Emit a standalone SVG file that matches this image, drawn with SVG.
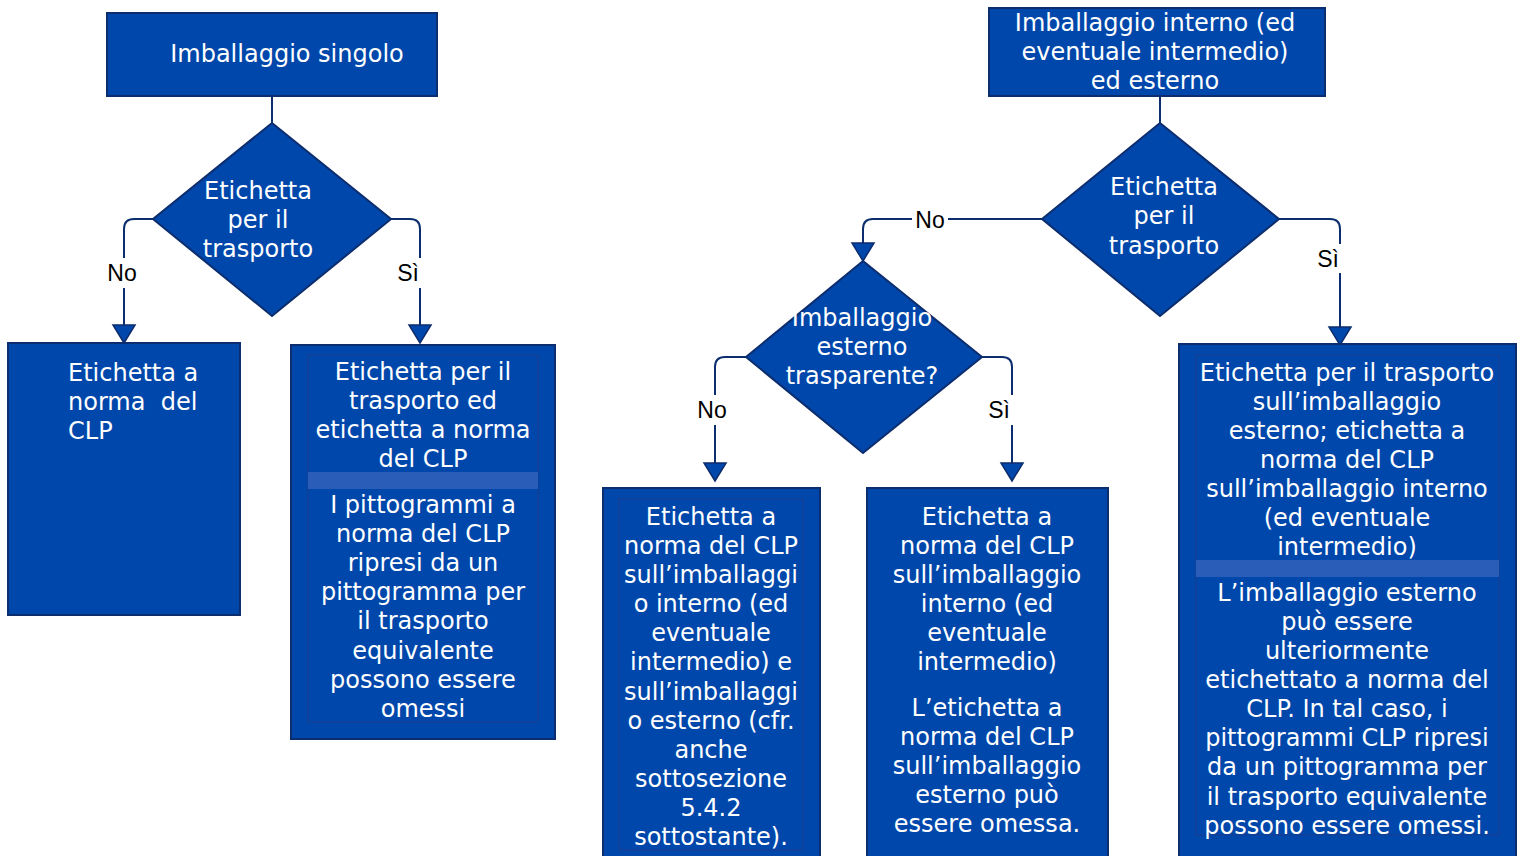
<svg xmlns="http://www.w3.org/2000/svg" width="1522" height="856" viewBox="0 0 1522 856">
<style>
.box{fill:#0047AB;stroke:#0C2D6E;stroke-width:2}
.inner{fill:none;stroke:#1A3C8C;stroke-width:1}
.band{fill:#2A5DB8}
.t{font-family:"DejaVu Sans",Verdana,sans-serif;font-size:24px;fill:#ffffff;text-anchor:middle}
.td{font-family:"DejaVu Sans",Verdana,sans-serif;font-size:24px;fill:#ffffff;text-anchor:middle}
.tl{font-family:"DejaVu Sans",Verdana,sans-serif;font-size:24px;fill:#ffffff;white-space:pre}
.conn{fill:none;stroke:#0C2D6E;stroke-width:2}
.lbl{font-family:"Liberation Sans",Arial,sans-serif;font-size:23px;fill:#000000;text-anchor:middle}
.lblbg{fill:#ffffff}
</style>
<defs>
<marker id="arr" viewBox="0 0 18 22" refX="18" refY="11" markerWidth="18" markerHeight="22" markerUnits="userSpaceOnUse" orient="auto" overflow="visible">
<path d="M0,0 L18,11 L0,22 Z" fill="#0047AB" stroke="#0C2D6E" stroke-width="1.5"/>
</marker>
</defs>
<rect width="1522" height="856" fill="#ffffff"/>

<g id="connectors">
<path class="conn" d="M272,96 V123"/>
<path class="conn" d="M153,219 H134 Q124,219 124,229 V343" marker-end="url(#arr)"/>
<path class="conn" d="M391,219 H410 Q420,219 420,229 V343" marker-end="url(#arr)"/>
<path class="conn" d="M1160,96 V123"/>
<path class="conn" d="M1042,219 H873 Q863,219 863,229 V261" marker-end="url(#arr)"/>
<path class="conn" d="M1279,219 H1330 Q1340,219 1340,229 V345" marker-end="url(#arr)"/>
<path class="conn" d="M746,357 H725 Q715,357 715,367 V481" marker-end="url(#arr)"/>
<path class="conn" d="M982,357 H1002 Q1012,357 1012,367 V481" marker-end="url(#arr)"/>
<rect class="lblbg" x="105" y="258" width="36" height="30"/>
<text class="lbl" x="122" y="281">No</text>
<rect class="lblbg" x="396" y="258" width="30" height="30"/>
<text class="lbl" x="408" y="281">Sì</text>
<rect class="lblbg" x="912" y="205" width="36" height="28"/>
<text class="lbl" x="930" y="228">No</text>
<rect class="lblbg" x="1316" y="244" width="30" height="29"/>
<text class="lbl" x="1328" y="267">Sì</text>
<rect class="lblbg" x="695" y="395" width="36" height="30"/>
<text class="lbl" x="712" y="418">No</text>
<rect class="lblbg" x="987" y="395" width="30" height="30"/>
<text class="lbl" x="999" y="418">Sì</text>
</g>

<g id="n-singolo">
<rect class="box" x="107" y="13" width="330" height="83"/>
<text class="t" x="287" y="62">Imballaggio singolo</text>
</g>

<g id="d-trasporto1">
<polygon class="box" points="272,123 391,219 272,316 153,219"/>
<text class="td" x="258" y="199">Etichetta</text>
<text class="td" x="258" y="228">per il</text>
<text class="td" x="258" y="257">trasporto</text>
</g>

<g id="n-clp-singolo">
<rect class="box" x="8" y="343" width="232" height="272"/>
<text class="tl" x="68" y="381">Etichetta a</text>
<text class="tl" x="68" y="410">norma  del</text>
<text class="tl" x="68" y="439">CLP</text>
</g>

<g id="n-trasporto-clp">
<rect class="box" x="291" y="345" width="264" height="394"/>
<rect class="inner" x="308" y="355" width="230" height="367"/>
<rect class="band" x="308" y="472" width="230" height="17"/>
<text class="t" x="423" y="380">Etichetta per il</text>
<text class="t" x="423" y="409">trasporto ed</text>
<text class="t" x="423" y="438">etichetta a norma</text>
<text class="t" x="423" y="467">del CLP</text>
<text class="t" x="423" y="513">I pittogrammi a</text>
<text class="t" x="423" y="542">norma del CLP</text>
<text class="t" x="423" y="571">ripresi da un</text>
<text class="t" x="423" y="600">pittogramma per</text>
<text class="t" x="423" y="629">il trasporto</text>
<text class="t" x="423" y="659">equivalente</text>
<text class="t" x="423" y="688">possono essere</text>
<text class="t" x="423" y="717">omessi</text>
</g>

<g id="n-interno-esterno">
<rect class="box" x="989" y="8" width="336" height="88"/>
<text class="t" x="1155" y="31">Imballaggio interno (ed</text>
<text class="t" x="1155" y="60">eventuale intermedio)</text>
<text class="t" x="1155" y="89">ed esterno</text>
</g>

<g id="d-trasporto2">
<polygon class="box" points="1160,123 1279,219 1160,316 1042,219"/>
<text class="td" x="1164" y="195">Etichetta</text>
<text class="td" x="1164" y="224">per il</text>
<text class="td" x="1164" y="254">trasporto</text>
</g>

<g id="d-trasparente">
<polygon class="box" points="863,261 982,357 863,453 746,357"/>
<text class="td" x="862" y="326">Imballaggio</text>
<text class="td" x="862" y="355">esterno</text>
<text class="td" x="862" y="384">trasparente?</text>
</g>

<g id="n-no-trasparente">
<rect class="box" x="603" y="488" width="217" height="372"/>
<rect class="inner" x="619" y="499" width="184" height="351"/>
<text class="t" x="711" y="525">Etichetta a</text>
<text class="t" x="711" y="554">norma del CLP</text>
<text class="t" x="711" y="583">sull’imballaggi</text>
<text class="t" x="711" y="612">o interno (ed</text>
<text class="t" x="711" y="641">eventuale</text>
<text class="t" x="711" y="670">intermedio) e</text>
<text class="t" x="711" y="700">sull’imballaggi</text>
<text class="t" x="711" y="729">o esterno (cfr.</text>
<text class="t" x="711" y="758">anche</text>
<text class="t" x="711" y="787">sottosezione</text>
<text class="t" x="711" y="816">5.4.2</text>
<text class="t" x="711" y="845">sottostante).</text>
</g>

<g id="n-si-trasparente">
<rect class="box" x="867" y="488" width="241" height="372"/>
<text class="t" x="987" y="525">Etichetta a</text>
<text class="t" x="987" y="554">norma del CLP</text>
<text class="t" x="987" y="583">sull’imballaggio</text>
<text class="t" x="987" y="612">interno (ed</text>
<text class="t" x="987" y="641">eventuale</text>
<text class="t" x="987" y="670">intermedio)</text>
<text class="t" x="987" y="716">L’etichetta a</text>
<text class="t" x="987" y="745">norma del CLP</text>
<text class="t" x="987" y="774">sull’imballaggio</text>
<text class="t" x="987" y="803">esterno può</text>
<text class="t" x="987" y="832">essere omessa.</text>
</g>

<g id="n-trasporto-esterno">
<rect class="box" x="1179" y="344" width="337" height="516"/>
<rect class="inner" x="1196" y="355" width="303" height="480"/>
<rect class="band" x="1196" y="560" width="303" height="17"/>
<text class="t" x="1347" y="381">Etichetta per il trasporto</text>
<text class="t" x="1347" y="410">sull’imballaggio</text>
<text class="t" x="1347" y="439">esterno; etichetta a</text>
<text class="t" x="1347" y="468">norma del CLP</text>
<text class="t" x="1347" y="497">sull’imballaggio interno</text>
<text class="t" x="1347" y="526">(ed eventuale</text>
<text class="t" x="1347" y="555">intermedio)</text>
<text class="t" x="1347" y="601">L’imballaggio esterno</text>
<text class="t" x="1347" y="630">può essere</text>
<text class="t" x="1347" y="659">ulteriormente</text>
<text class="t" x="1347" y="688">etichettato a norma del</text>
<text class="t" x="1347" y="717">CLP. In tal caso, i</text>
<text class="t" x="1347" y="746">pittogrammi CLP ripresi</text>
<text class="t" x="1347" y="775">da un pittogramma per</text>
<text class="t" x="1347" y="805">il trasporto equivalente</text>
<text class="t" x="1347" y="834">possono essere omessi.</text>
</g>
</svg>
